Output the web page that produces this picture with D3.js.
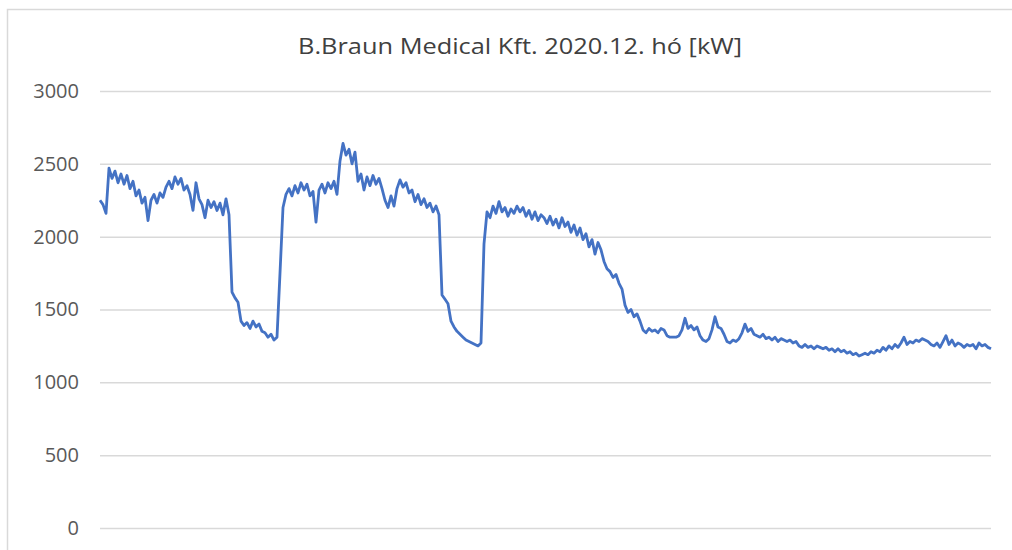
<!DOCTYPE html>
<html lang="hu">
<head>
    <meta charset="UTF-8"/>
    <title>B.Braun Medical Kft. 2020.12. hó [kW]</title>
    <script src="https://d3js.org/d3.v7.min.js"></script>
    <style>
        body { margin: 0; background: #fff; }
        text { font-family: "Open Sans", "DejaVu Sans", sans-serif; }
    </style>
</head>
<body>
<script>
    var w = 1012;
    var h = 550;

    var title = "B.Braun Medical Kft. 2020.12. hó [kW]";
    var yTicks = [0, 500, 1000, 1500, 2000, 2500, 3000];

    // load readings across December (kW)
    var load = [
        2250, 2220, 2160, 2470, 2400, 2450, 2370, 2430, 2360, 2420,
        2330, 2380, 2280, 2320, 2230, 2270, 2110, 2250, 2290, 2230,
        2300, 2270, 2340, 2380, 2330, 2410, 2360, 2400, 2320, 2350,
        2290, 2180, 2370, 2260, 2220, 2130, 2250, 2200, 2240, 2180,
        2230, 2150, 2260, 2150, 1620, 1580, 1550, 1420, 1390, 1410,
        1370, 1420, 1380, 1400, 1350, 1340, 1310, 1330, 1290, 1310,
        1750, 2200, 2290, 2330, 2280, 2350, 2300, 2370, 2320, 2360,
        2280, 2310, 2100, 2320, 2360, 2300, 2370, 2330, 2380, 2290,
        2520, 2640, 2560, 2600, 2500, 2580, 2380, 2430, 2320, 2410,
        2350, 2420, 2360, 2400, 2330, 2250, 2200, 2280, 2210, 2330,
        2390, 2340, 2370, 2300, 2320, 2240, 2290, 2220, 2260, 2200,
        2230, 2170, 2210, 2150, 1600, 1570, 1540, 1420, 1380, 1350,
        1330, 1310, 1290, 1280, 1270, 1260, 1250, 1270, 1950, 2170,
        2130, 2210, 2160, 2240, 2170, 2200, 2140, 2190, 2160, 2210,
        2170, 2200, 2140, 2180, 2120, 2170, 2110, 2150, 2130, 2090,
        2140, 2080, 2120, 2060, 2130, 2070, 2100, 2030, 2080, 2010,
        2060, 1980, 2020, 1930, 1980, 1880, 1960, 1910, 1830, 1780,
        1760, 1720, 1740, 1680, 1640, 1530, 1480, 1500, 1450, 1470,
        1420, 1360, 1340, 1370, 1350, 1360, 1340, 1370, 1360, 1320,
        1310, 1310, 1310, 1320, 1360, 1440, 1370, 1390, 1360, 1380,
        1320, 1290, 1280, 1300, 1360, 1450, 1380, 1370, 1330, 1280,
        1270, 1290, 1280, 1300, 1340, 1400, 1350, 1370, 1330, 1320,
        1310, 1330, 1300, 1310, 1290, 1310, 1280, 1300, 1290, 1280,
        1290, 1270, 1280, 1250, 1240, 1260, 1240, 1250, 1230, 1250,
        1240, 1230, 1240, 1220, 1230, 1210, 1230, 1210, 1220, 1200,
        1210, 1190, 1200, 1180, 1190, 1200, 1190, 1210, 1200, 1220,
        1210, 1240, 1220, 1250, 1230, 1260, 1240, 1270, 1310, 1260,
        1280, 1270, 1290, 1280, 1300, 1290, 1280, 1260, 1250, 1270,
        1240, 1280, 1320, 1260, 1290, 1250, 1270, 1260, 1240, 1260,
        1250, 1260, 1230, 1270, 1250, 1260, 1240, 1230
    ];

    var plotLeft = 100, plotRight = 991, plotTop = 91, plotBottom = 528;

    var svg = d3.select("body")
        .append("svg")
        .attr("width", w)
        .attr("height", h);

    // chart area border (runs off the right and bottom edge)
    svg.append("rect")
        .attr("x", 7.5)
        .attr("y", 9.5)
        .attr("width", w + 20)
        .attr("height", h + 20)
        .attr("fill", "#fff")
        .attr("stroke", "#d9d9d9")
        .attr("stroke-width", 1.5);

    svg.append("text")
        .attr("x", 520)
        .attr("y", 54)
        .attr("text-anchor", "middle")
        .attr("textLength", 444)
        .attr("lengthAdjust", "spacingAndGlyphs")
        .style("font-size", "21px")
        .attr("fill", "#404040")
        .text(title);

    var xScale = d3.scaleLinear()
        .domain([0, load.length - 1])
        .range([plotLeft, plotRight]);

    var yScale = d3.scaleLinear()
        .domain([0, 3000])
        .range([plotBottom, plotTop]);

    var yAxis = svg.append("g")
        .attr("transform", "translate(" + plotLeft + ",0)")
        .call(d3.axisLeft(yScale)
            .tickValues(yTicks)
            .tickSize(-(plotRight - plotLeft))
            .tickPadding(21)
            .tickFormat(d3.format("d")));

    yAxis.select(".domain").remove();
    yAxis.selectAll(".tick line")
        .attr("stroke", "#d9d9d9")
        .attr("stroke-width", 1.5);
    yAxis.selectAll(".tick text")
        .attr("fill", "#595959")
        .style("font-size", "20px");

    var line = d3.line()
        .x(function(d, i) { return xScale(i); })
        .y(function(d) { return yScale(d); });

    svg.append("path")
        .datum(load)
        .attr("d", line)
        .attr("fill", "none")
        .attr("stroke", "#4472c4")
        .attr("stroke-width", 2.8)
        .attr("stroke-linejoin", "round");
</script>
</body>
</html>
